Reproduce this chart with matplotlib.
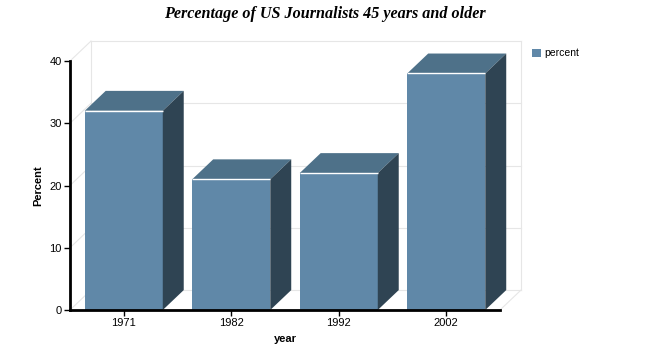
import matplotlib
matplotlib.use("Agg")
import matplotlib.pyplot as plt
from matplotlib.patches import Polygon, Patch

years = ["1971", "1982", "1992", "2002"]
percent = [32, 21, 22, 38]

front_color = "#6088a8"
top_color = "#4e7189"
side_color = "#2f4453"
grid_color = "#e6e6e6"

# 3d depth in data units (~21 px right, ~20 px up)
dx = 0.195
dy = 3.2
w = 0.726

fig = plt.figure(figsize=(6.5, 3.5), dpi=100)
ax = fig.add_axes([70 / 650, 40 / 350, 430 / 650, 249 / 350])

x = list(range(len(years)))
ax.set_xlim(-0.5, len(years) - 0.5)
ax.set_ylim(0, 40)
yticks = [0, 10, 20, 30, 40]

# back wall and floor
x0, x1 = -0.5, len(years) - 0.5
for t in yticks:
    ax.plot([x0 + dx, x1 + dx], [t + dy, t + dy], color=grid_color, lw=0.8, zorder=0, clip_on=False)
    ax.plot([x0, x0 + dx], [t, t + dy], color=grid_color, lw=0.8, zorder=0, clip_on=False)
ax.plot([x0 + dx, x0 + dx], [dy, 40 + dy], color=grid_color, lw=0.8, zorder=0, clip_on=False)
ax.plot([x1 + dx, x1 + dx], [dy, 40 + dy], color=grid_color, lw=0.8, zorder=0, clip_on=False)
ax.plot([x1, x1 + dx], [0, dy], color=grid_color, lw=0.8, zorder=0, clip_on=False)

# bars
ax.bar(x, percent, width=w, color=front_color, zorder=3)
for xi, v in zip(x, percent):
    l, r = xi - w / 2, xi + w / 2
    top = Polygon([(l, v), (r, v), (r + dx, v + dy), (l + dx, v + dy)],
                  closed=True, facecolor=top_color, edgecolor="none", zorder=3, clip_on=False)
    side = Polygon([(r, 0), (r + dx, dy), (r + dx, v + dy), (r, v)],
                   closed=True, facecolor=side_color, edgecolor="none", zorder=3, clip_on=False)
    ax.add_patch(top)
    ax.add_patch(side)
    ax.plot([l, r], [v, v], color="white", lw=1, zorder=4, solid_capstyle="butt")

for s in ["top", "right"]:
    ax.spines[s].set_visible(False)
ax.spines["left"].set_linewidth(2)
ax.spines["bottom"].set_linewidth(2)
ax.spines["left"].set_zorder(5)
ax.spines["bottom"].set_zorder(5)

ax.set_yticks(yticks)
ax.set_xticks(x)
ax.set_xticklabels(years)
ax.tick_params(axis="both", labelsize=8, length=4, width=1, pad=2)
for lab in ax.get_xticklabels() + ax.get_yticklabels():
    lab.set_family("Liberation Sans")

ax.set_ylabel("Percent", fontsize=8, fontweight="bold", family="Liberation Sans", labelpad=4)
ax.set_xlabel("year", fontsize=8, fontweight="bold", family="Liberation Sans", labelpad=4)

fig.text(0.5, 1 - 14 / 350, "Percentage of US Journalists 45 years and older",
         ha="center", va="center", fontsize=11.6, fontweight="bold", style="italic",
         family="Liberation Serif")

fig.legend(handles=[Patch(facecolor=front_color, edgecolor="none", label="percent")],
           loc="upper left", bbox_to_anchor=(528 / 650, 1 - 44 / 350), frameon=False,
           handlelength=0.8, handleheight=0.8, handletextpad=0.4,
           borderaxespad=0, prop={"family": "Liberation Sans", "size": 7.5})

fig.savefig("out.png", dpi=100)
